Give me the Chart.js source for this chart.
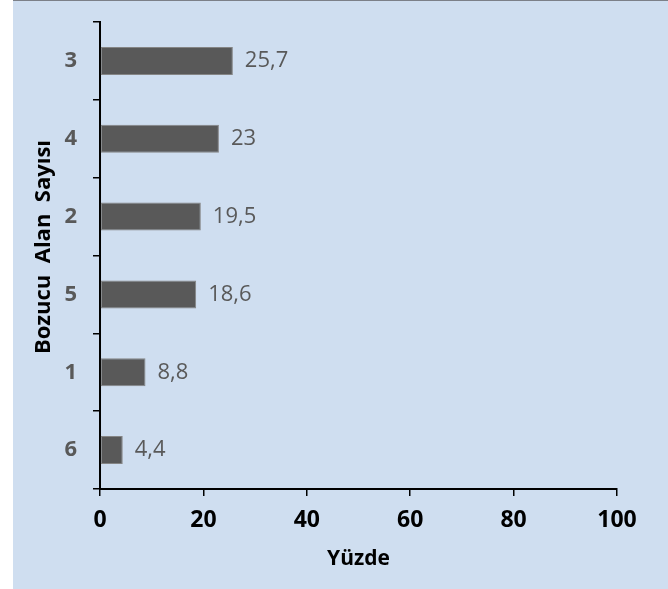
<!DOCTYPE html>
<html>
<head>
<meta charset="utf-8">
<script src="https://cdn.jsdelivr.net/npm/chart.js@4/dist/chart.umd.min.js"></script>
<style>
  html, body { margin: 0; padding: 0; background: #ffffff; }
  canvas { display: block; }
</style>
</head>
<body>
<canvas id="c" width="668" height="589"></canvas>
<script>
const categories = ['3', '4', '2', '5', '1', '6'];
const values = [25.7, 23, 19.5, 18.6, 8.8, 4.4];
const xMin = 0, xMax = 100, xStep = 20;
const xTitle = 'Yüzde';
const yTitle = 'Bozucu  Alan  Sayısı';

const FONT = "'Open Sans', 'DejaVu Sans', sans-serif";

const bgPlugin = {
  id: 'bg',
  beforeDraw(chart) {
    const ctx = chart.ctx;
    ctx.save();
    ctx.fillStyle = '#ffffff';
    ctx.fillRect(0, 0, chart.width, chart.height);
    ctx.fillStyle = '#cfdef0';
    ctx.fillRect(13, 0, chart.width - 13, chart.height);
    ctx.fillStyle = '#7c8088';
    ctx.fillRect(13, 0, chart.width - 13, 1);
    ctx.restore();
  }
};

const labelPlugin = {
  id: 'barLabels',
  afterDatasetsDraw(chart) {
    const ctx = chart.ctx;
    const meta = chart.getDatasetMeta(0);
    ctx.save();
    ctx.font = "22px " + FONT;
    ctx.fillStyle = '#595959';
    ctx.textAlign = 'left';
    ctx.textBaseline = 'middle';
    meta.data.forEach((el, i) => {
      const txt = String(values[i]).replace('.', ',');
      ctx.fillText(txt, el.x + 12, el.y);
    });
    ctx.restore();
  }
};

const yTitlePlugin = {
  id: 'yTitle',
  afterDraw(chart) {
    const ctx = chart.ctx;
    ctx.save();
    ctx.translate(44, 247);
    ctx.rotate(-Math.PI / 2);
    ctx.font = "bold 22px " + FONT;
    ctx.fillStyle = '#000000';
    ctx.textAlign = 'center';
    ctx.textBaseline = 'middle';
    ctx.fillText(yTitle, 0, 0);
    ctx.restore();
  }
};

new Chart(document.getElementById('c'), {
  type: 'bar',
  data: {
    labels: categories,
    datasets: [{
      data: values,
      backgroundColor: '#595959',
      borderColor: '#858585',
      borderWidth: 1,
      borderSkipped: false,
      categoryPercentage: 1,
      barPercentage: 0.36
    }]
  },
  options: {
    indexAxis: 'y',
    responsive: false,
    animation: false,
    layout: { padding: { top: 22, right: 51, left: 0, bottom: 0 } },
    plugins: {
      legend: { display: false },
      tooltip: { enabled: false }
    },
    scales: {
      x: {
        min: xMin,
        max: xMax,
        ticks: {
          stepSize: xStep,
          color: '#000000',
          font: { family: FONT, size: 23, weight: 'bold' },
          padding: 11,
          maxRotation: 0
        },
        grid: {
          drawOnChartArea: false,
          drawTicks: true,
          tickLength: 7,
          color: '#000000',
          lineWidth: 1.5
        },
        border: { display: true, color: '#000000', width: 2 },
        title: {
          display: true,
          text: xTitle,
          color: '#000000',
          font: { family: FONT, size: 21, weight: 'bold' },
          padding: { top: 0, bottom: 17 }
        },
        afterFit(scale) { scale.height = 100; scale.paddingLeft = 0; scale.paddingRight = 0; }
      },
      y: {
        ticks: {
          color: '#595959',
          font: { family: FONT, size: 22, weight: 'bold' },
          padding: 16
        },
        grid: {
          drawOnChartArea: false,
          drawTicks: true,
          tickLength: 7,
          color: '#000000',
          lineWidth: 1.5,
          offset: true
        },
        border: { display: true, color: '#000000', width: 2 },
        title: { display: false },
        afterFit(scale) { scale.width = 100; scale.paddingTop = 0; scale.paddingBottom = 0; }
      }
    }
  },
  plugins: [bgPlugin, labelPlugin, yTitlePlugin]
});
</script>
</body>
</html>
